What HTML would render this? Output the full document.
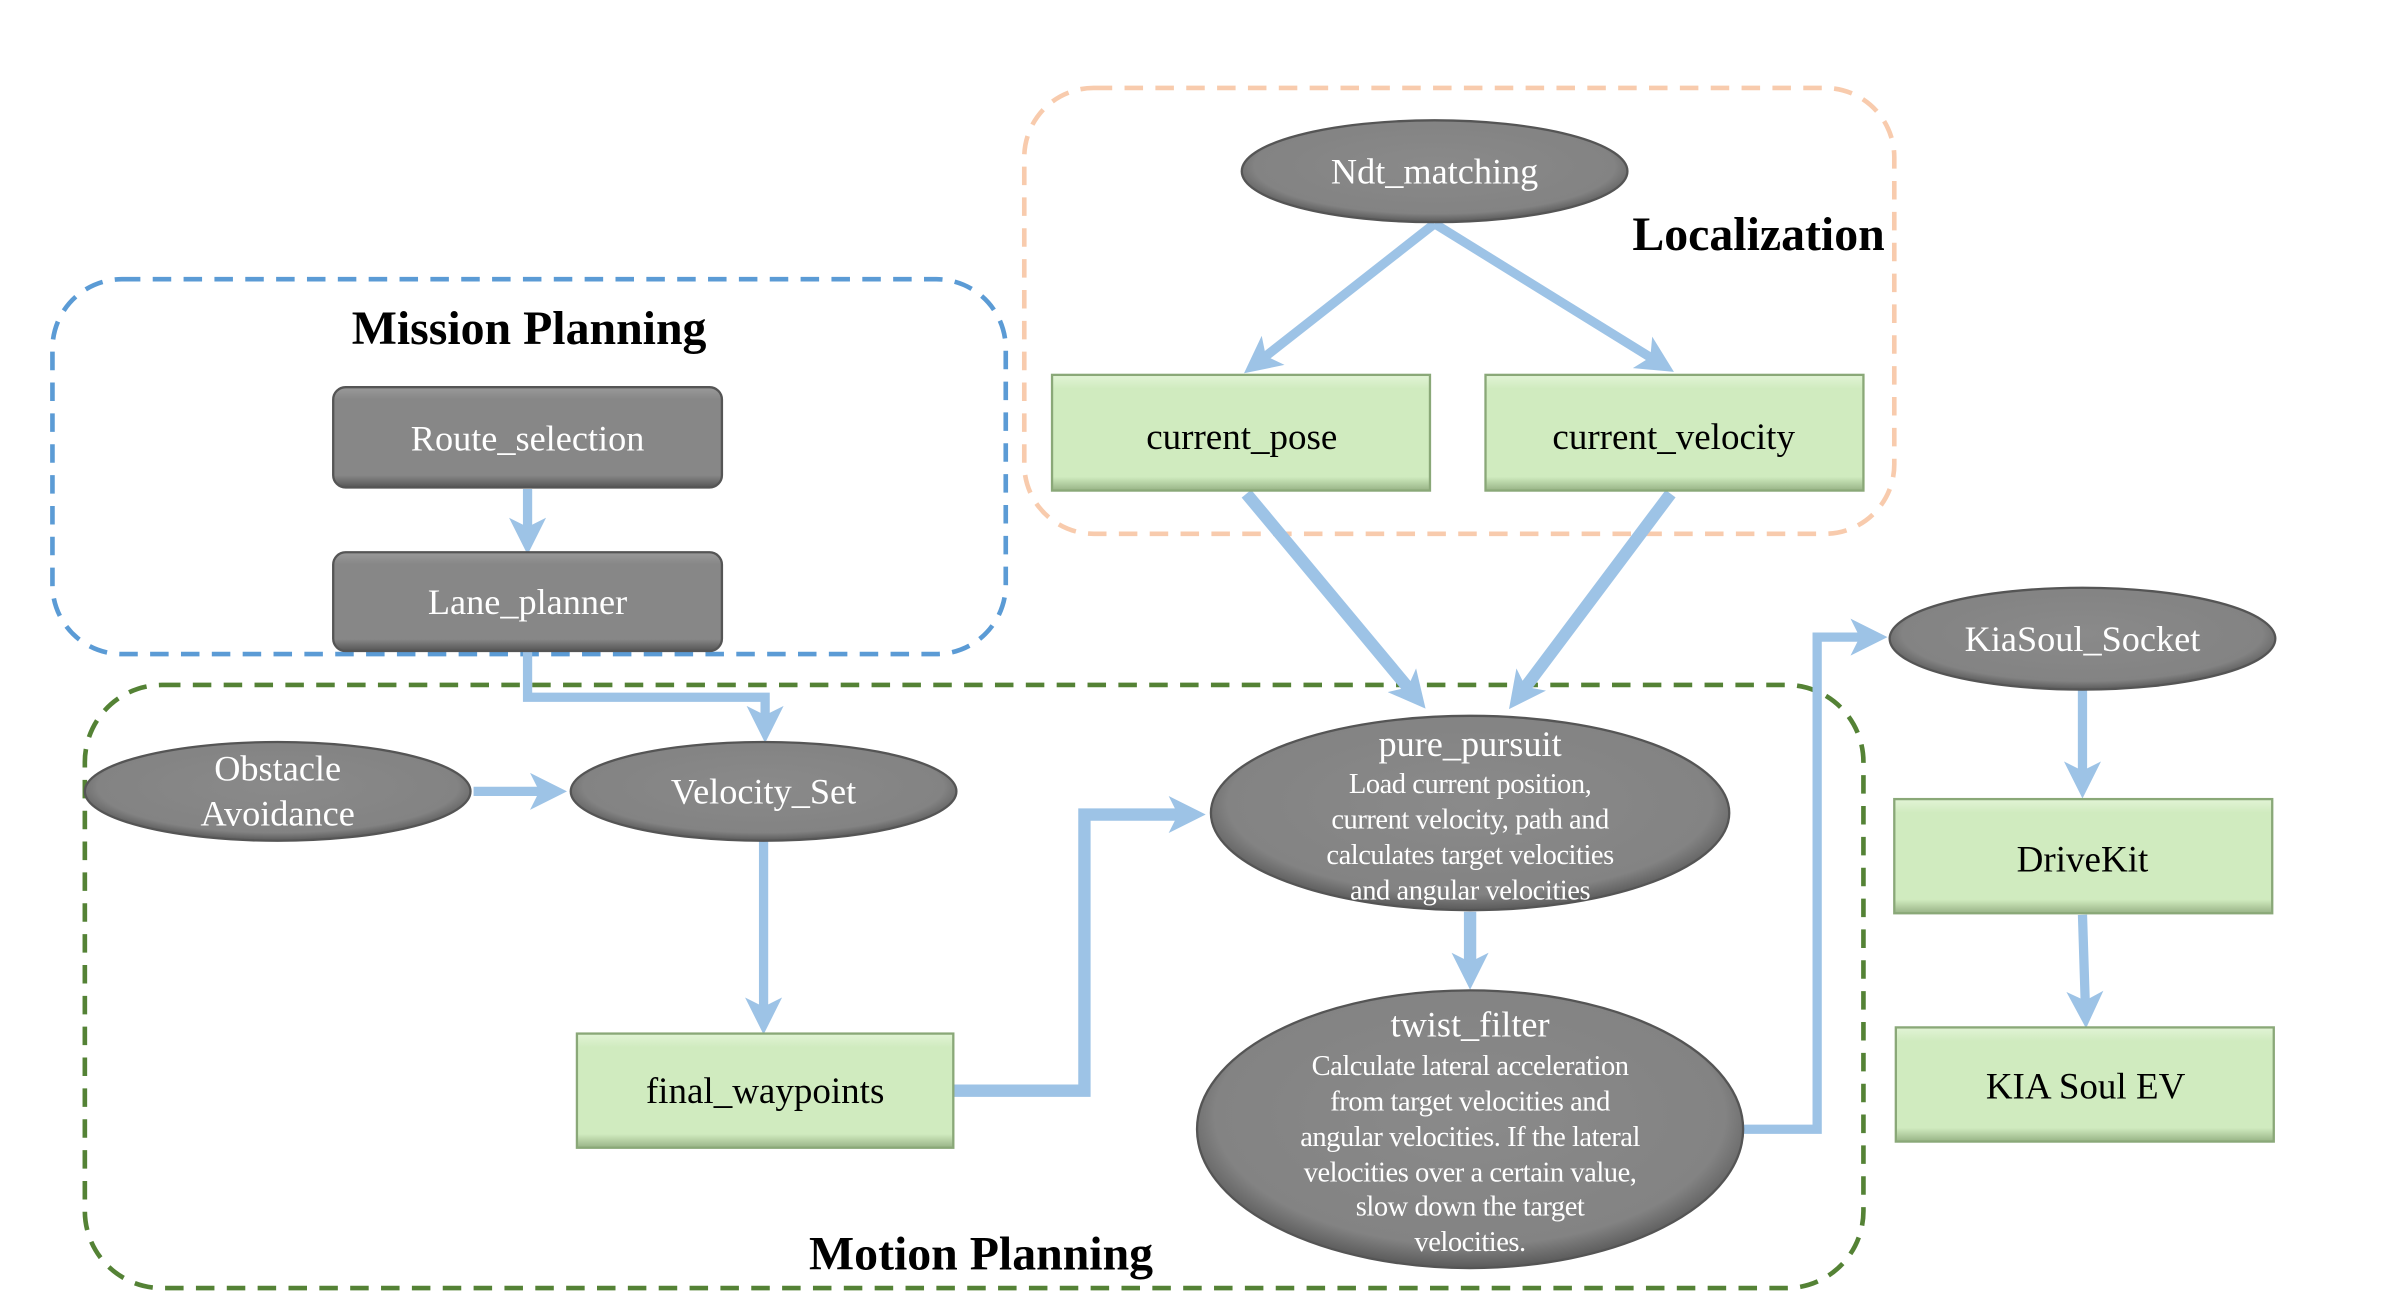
<!DOCTYPE html>
<html><head><meta charset="utf-8"><style>
html,body{margin:0;padding:0;background:#fff;}
svg{display:block;}
text{font-family:"Liberation Serif",serif;}
.w{fill:#fff;font-size:23.5px;}
.d{fill:#fff;font-size:18.5px;letter-spacing:-0.3px;}
.b{fill:#000;font-size:24px;}
.h{fill:#000;font-size:31px;font-weight:bold;}
</style></head><body>
<svg width="2391" height="1302" viewBox="0 0 1550 844" preserveAspectRatio="none" xmlns="http://www.w3.org/2000/svg">
<defs>
<radialGradient id="eg" cx="50%" cy="45%" r="55%">
<stop offset="0" stop-color="#8a8a8a"/><stop offset="0.85" stop-color="#838383"/><stop offset="1" stop-color="#5a5a5a"/>
</radialGradient>
<linearGradient id="rg" x1="0" y1="0" x2="0" y2="1">
<stop offset="0" stop-color="#9a9a9a"/><stop offset="0.12" stop-color="#878787"/><stop offset="0.88" stop-color="#878787"/><stop offset="1" stop-color="#555"/>
</linearGradient>
<linearGradient id="gg" x1="0" y1="0" x2="0" y2="1">
<stop offset="0" stop-color="#e2f4d6"/><stop offset="0.12" stop-color="#d0ebbf"/><stop offset="0.88" stop-color="#d0ebbf"/><stop offset="1" stop-color="#98b386"/>
</linearGradient>
<marker id="a" markerWidth="4" markerHeight="4" refX="2.4" refY="2" orient="auto" markerUnits="strokeWidth"><path d="M0,0 L4,2 L0,4 L1,2 z" fill="#9dc3e6"/></marker>
<marker id="a2" markerWidth="3" markerHeight="3" refX="1.8" refY="1.5" orient="auto" markerUnits="strokeWidth"><path d="M0,0 L3,1.5 L0,3 L0.75,1.5 z" fill="#9dc3e6"/></marker>
</defs>

<rect x="664" y="57" width="564" height="289" rx="45" fill="none" stroke="#f8cbad" stroke-width="3" stroke-dasharray="12,8"/>
<rect x="34" y="181" width="618" height="243" rx="45" fill="none" stroke="#5b9bd5" stroke-width="3" stroke-dasharray="12,8"/>
<rect x="55" y="444" width="1153" height="391" rx="50" fill="none" stroke="#548235" stroke-width="3" stroke-dasharray="12,8"/>
<text class="h" x="1140" y="162" text-anchor="middle">Localization</text>
<text class="h" x="343" y="223" text-anchor="middle">Mission Planning</text>
<text class="h" x="636" y="823" text-anchor="middle">Motion Planning</text>

<g fill="none" stroke="#9dc3e6" stroke-linejoin="miter">
<line x1="930" y1="145" x2="814" y2="236" stroke-width="6" marker-end="url(#a)"/>
<line x1="930" y1="145" x2="1077" y2="236" stroke-width="6" marker-end="url(#a)"/>
<line x1="808" y1="320" x2="918" y2="452" stroke-width="8" marker-end="url(#a2)"/>
<line x1="1083" y1="320" x2="984" y2="452" stroke-width="8" marker-end="url(#a2)"/>
<line x1="342" y1="317" x2="342" y2="350" stroke-width="6" marker-end="url(#a)"/>
<polyline points="342,421 342,452 496,452 496,472" stroke-width="6" marker-end="url(#a)"/>
<line x1="307" y1="513" x2="358" y2="513" stroke-width="6" marker-end="url(#a)"/>
<line x1="495" y1="545" x2="495" y2="661" stroke-width="6" marker-end="url(#a)"/>
<polyline points="618,707 703,707 703,528 772,528" stroke-width="8" marker-end="url(#a2)"/>
<line x1="953" y1="591" x2="953" y2="632" stroke-width="8" marker-end="url(#a2)"/>
<polyline points="1130,732 1178,732 1178,413 1214,413" stroke-width="6" marker-end="url(#a)"/>
<line x1="1350" y1="447" x2="1350" y2="508" stroke-width="6" marker-end="url(#a)"/>
<line x1="1350" y1="593" x2="1352" y2="657" stroke-width="6" marker-end="url(#a)"/>
</g>

<g stroke="#555" stroke-width="1.5" fill="url(#eg)">
<ellipse cx="930" cy="111" rx="125" ry="33"/>
<ellipse cx="180" cy="513" rx="125" ry="32"/>
<ellipse cx="495" cy="513" rx="125" ry="32"/>
<ellipse cx="953" cy="527" rx="168" ry="63"/>
<ellipse cx="953" cy="732" rx="177" ry="90"/>
<ellipse cx="1350" cy="414" rx="125" ry="33"/>
</g>
<rect x="216" y="251" width="252" height="65" rx="8" fill="url(#rg)" stroke="#555" stroke-width="1.5"/>
<rect x="216" y="358" width="252" height="64" rx="8" fill="url(#rg)" stroke="#555" stroke-width="1.5"/>
<g fill="url(#gg)" stroke="#8aa878" stroke-width="1.5">
<rect x="682" y="243" width="245" height="75"/>
<rect x="963" y="243" width="245" height="75"/>
<rect x="374" y="670" width="244" height="74"/>
<rect x="1228" y="518" width="245" height="74"/>
<rect x="1229" y="666" width="245" height="74"/>
</g>

<text class="w" x="930" y="119" text-anchor="middle">Ndt_matching</text>
<text class="w" x="342" y="292" text-anchor="middle">Route_selection</text>
<text class="w" x="342" y="398" text-anchor="middle">Lane_planner</text>
<text class="w" x="180" y="506" text-anchor="middle">Obstacle</text>
<text class="w" x="180" y="535" text-anchor="middle">Avoidance</text>
<text class="w" x="495" y="521" text-anchor="middle">Velocity_Set</text>
<text class="w" x="1350" y="422" text-anchor="middle">KiaSoul_Socket</text>
<text class="w" x="953" y="490" text-anchor="middle">pure_pursuit</text>
<text class="d" x="953" y="514" text-anchor="middle">Load current position,</text>
<text class="d" x="953" y="537" text-anchor="middle">current velocity, path and</text>
<text class="d" x="953" y="560" text-anchor="middle">calculates target velocities</text>
<text class="d" x="953" y="583" text-anchor="middle">and angular velocities</text>
<text class="w" x="953" y="672" text-anchor="middle">twist_filter</text>
<text class="d" x="953" y="697" text-anchor="middle">Calculate lateral acceleration</text>
<text class="d" x="953" y="720" text-anchor="middle">from target velocities and</text>
<text class="d" x="953" y="743" text-anchor="middle">angular velocities. If  the lateral</text>
<text class="d" x="953" y="766" text-anchor="middle">velocities over a certain value,</text>
<text class="d" x="953" y="788" text-anchor="middle">slow down the target</text>
<text class="d" x="953" y="811" text-anchor="middle">velocities.</text>

<text class="b" x="805" y="291" text-anchor="middle">current_pose</text>
<text class="b" x="1085" y="291" text-anchor="middle">current_velocity</text>
<text class="b" x="496" y="715" text-anchor="middle">final_waypoints</text>
<text class="b" x="1350" y="565" text-anchor="middle">DriveKit</text>
<text class="b" x="1352" y="712" text-anchor="middle">KIA Soul EV</text>
</svg>
</body></html>
